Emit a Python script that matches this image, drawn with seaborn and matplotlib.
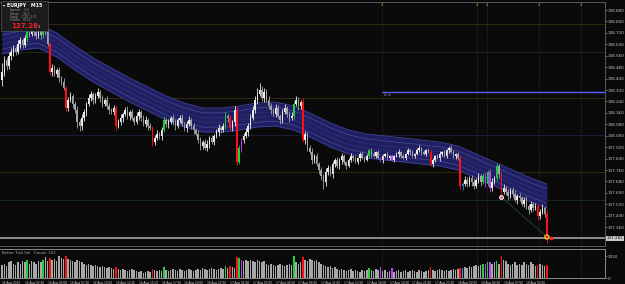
import numpy as np
import pandas as pd
import matplotlib
matplotlib.use("Agg")
import matplotlib.pyplot as plt
import seaborn as sns
from matplotlib import font_manager

# ---------------- data ----------------
symbol = "EURJPY"
timeframe = "M15"
start_time = "2023-08-16 00:00"
first_open = 138.390

close = [
    138.446, 138.530, 138.488, 138.558, 138.586,
    138.614, 138.586, 138.642, 138.670, 138.635, 138.684,
    138.740,
    138.712, 138.754, 138.726, 138.698, 138.740, 138.705,
    138.768,
    138.726, 138.642,
    138.446,
    138.474, 138.432, 138.460, 138.404, 138.376, 138.334,
    138.194,
    138.250, 138.278, 138.222, 138.180,
    138.096, 138.068, 138.124, 138.166,
    138.222, 138.264, 138.292, 138.250, 138.278, 138.306, 138.264, 138.222, 138.250, 138.208, 138.180,
    138.166, 138.194,
    138.068,
    138.096, 138.124, 138.152, 138.180, 138.138,
    138.166, 138.124, 138.096, 138.138, 138.166, 138.124, 138.082, 138.110, 138.068, 138.054,
    137.956,
    137.984, 138.012, 137.998, 138.040,
    138.110,
    138.082, 138.096, 138.124, 138.096, 138.068, 138.110, 138.124, 138.082, 138.054, 138.082, 138.110, 138.068, 138.040, 138.012,
    137.970, 137.928, 137.956, 137.914, 137.942, 137.984, 137.956, 137.998,
    138.026, 138.054, 138.040, 138.068,
    138.138,
    138.124,
    138.054,
    138.096, 138.180,
    137.816,
    137.914,
    137.970,
    137.998, 138.026,
    138.068, 138.124, 138.180, 138.250, 138.292, 138.320, 138.264, 138.306, 138.250, 138.208,
    138.180, 138.152, 138.194, 138.138, 138.110, 138.166, 138.194, 138.152, 138.124, 138.138,
    138.222,
    138.250, 138.208, 138.236,
    137.970,
    138.012, 137.914, 137.886, 137.830, 137.858, 137.802, 137.760,
    137.718, 137.676, 137.746, 137.774, 137.732, 137.802, 137.830,
    137.788, 137.830, 137.858, 137.816, 137.788, 137.830, 137.858, 137.844, 137.816, 137.844, 137.872, 137.844, 137.830, 137.858,
    137.900,
    137.872, 137.858, 137.886, 137.844,
    137.830,
    137.858, 137.872, 137.844, 137.858,
    137.830,
    137.858, 137.872, 137.886, 137.858, 137.844, 137.872, 137.900, 137.886, 137.858, 137.872, 137.900, 137.914, 137.886, 137.872, 137.900, 137.886,
    137.802,
    137.830, 137.858, 137.844, 137.872, 137.886, 137.858, 137.900, 137.914, 137.886, 137.858, 137.872, 137.844,
    137.648,
    137.662,
    137.690, 137.662, 137.704, 137.676, 137.648, 137.690, 137.718, 137.676,
    137.718, 137.662, 137.746, 137.634,
    137.676, 137.704,
    137.788,
    137.732,
    137.606,
    137.634, 137.606, 137.578, 137.620, 137.592, 137.550, 137.578, 137.564, 137.522, 137.550, 137.508, 137.480, 137.522, 137.494, 137.508,
    137.438,
    137.466, 137.494, 137.452,
    137.281,
]

upper_wick_pts = [
    60, 30, 20, 25, 30, 20, 15, 25, 20, 15,
    20, 15, 25, 20, 15, 20, 25, 15, 20, 15,
    20, 15, 25, 20, 15, 20, 15, 25, 15, 20,
    25, 15, 20, 30, 20, 25, 20, 15, 25, 20,
    15, 20, 25, 15, 20, 15, 25, 20, 15, 20,
    15, 20, 25, 15, 20, 25, 15, 20, 15, 25,
    20, 15, 20, 25, 15, 20, 15, 20, 25, 15,
    20, 25, 15, 20, 15, 25, 20, 15, 20, 25,
    15, 20, 25, 15, 20, 15, 25, 20, 15, 20,
    25, 15, 20, 15, 20, 25, 15, 20, 25, 15,
    20, 15, 25, 30, 20, 15, 20, 25, 20, 25,
    30, 25, 40, 50, 30, 25, 20, 25, 20, 15,
    25, 20, 15, 20, 25, 15, 20, 25, 20, 30,
    20, 15, 25, 20, 15, 20, 25, 15, 20, 15,
    20, 15, 25, 20, 15, 20, 15, 20, 15, 20,
    15, 10, 15, 20, 10, 15, 10, 15, 20, 10,
    15, 10, 15, 20, 10, 15, 10, 15, 10, 15,
    10, 15, 10, 15, 20, 10, 15, 10, 15, 10,
    15, 10, 15, 20, 10, 15, 10, 15, 20, 15,
    10, 15, 20, 10, 15, 10, 15, 20, 15, 10,
    15, 20, 15, 25, 20, 15, 20, 25, 15, 20,
    15, 20, 25, 15, 20, 25, 15, 20, 15, 20,
    25, 15, 20, 15, 20, 25, 15, 20, 15, 20,
    25, 15, 20, 15, 20, 15, 20, 25, 15, 30,
]

lower_wick_pts = [
    40, 25, 30, 20, 25, 30, 20, 15, 25, 20,
    15, 25, 20, 15, 25, 20, 15, 25, 20, 20,
    15, 20, 25, 15, 20, 25, 20, 15, 25, 20,
    15, 25, 20, 40, 35, 25, 20, 25, 15, 20,
    25, 20, 15, 25, 20, 15, 20, 25, 15, 20,
    25, 15, 20, 25, 15, 20, 25, 15, 20, 15,
    25, 20, 15, 20, 25, 15, 30, 20, 15, 20,
    25, 15, 20, 25, 15, 20, 25, 15, 20, 15,
    20, 25, 15, 20, 25, 15, 20, 25, 20, 15,
    20, 25, 15, 20, 15, 25, 20, 15, 20, 25,
    15, 20, 25, 20, 15, 25, 20, 15, 25, 20,
    15, 20, 25, 15, 20, 25, 15, 20, 25, 15,
    20, 15, 25, 20, 15, 20, 25, 15, 20, 15,
    25, 20, 15, 25, 20, 15, 25, 20, 15, 25,
    30, 50, 25, 20, 15, 25, 20, 15, 20, 25,
    15, 20, 10, 15, 20, 10, 15, 20, 10, 15,
    10, 15, 20, 10, 15, 10, 15, 20, 10, 15,
    15, 10, 15, 10, 20, 15, 10, 15, 10, 20,
    10, 15, 10, 15, 20, 10, 15, 10, 15, 20,
    15, 10, 20, 15, 10, 15, 20, 10, 15, 20,
    15, 20, 25, 15, 20, 15, 25, 20, 15, 20,
    25, 15, 20, 15, 25, 20, 15, 20, 25, 20,
    15, 20, 25, 15, 20, 15, 25, 20, 15, 20,
    20, 25, 15, 20, 15, 25, 20, 15, 20, 30,
]

volume = [
    650, 700, 600, 750, 800, 700, 650, 750, 700, 800,
    750, 850, 700, 800, 750, 700, 800, 750, 850, 1000,
    800, 950, 850, 900, 800, 1050, 950, 900, 1050, 900,
    850, 800, 750, 850, 800, 750, 700, 650, 700, 650,
    600, 650, 600, 550, 600, 550, 500, 550, 500, 450,
    550, 450, 400, 450, 400, 350, 400, 450, 400, 350,
    300, 350, 250, 300, 350, 300, 450, 400, 350, 400,
    350, 550, 400, 350, 400, 450, 400, 350, 450, 400,
    350, 400, 450, 400, 350, 400, 450, 400, 500, 450,
    400, 450, 500, 450, 400, 450, 500, 450, 600, 500,
    600, 550, 500, 1000, 950, 850, 800, 850, 800, 850,
    800, 750, 850, 800, 750, 800, 700, 650, 700, 650,
    600, 650, 700, 650, 600, 650, 700, 650, 1050, 750,
    700, 750, 1000, 850, 800, 900, 850, 800, 850, 750,
    700, 650, 600, 550, 600, 500, 550, 450, 400, 450,
    400, 350, 400, 450, 350, 400, 350, 300, 400, 350,
    400, 500, 400, 350, 450, 400, 550, 350, 400, 300,
    350, 500, 300, 350, 400, 300, 350, 400, 300, 350,
    400, 350, 300, 400, 350, 300, 350, 400, 550, 400,
    350, 400, 450, 400, 350, 400, 350, 400, 450, 400,
    450, 500, 500, 550, 500, 600, 550, 600, 650, 600,
    650, 700, 700, 750, 750, 700, 750, 800, 700, 1050,
    850, 800, 700, 650, 700, 750, 650, 700, 650, 750,
    700, 650, 750, 700, 600, 650, 700, 650, 600, 650,
]

red_bars = [21, 28, 50, 66, 100, 103, 132, 188, 201, 219, 235, 239]
green_bars = [11, 18, 71, 98, 104, 128, 161, 211, 213, 217]
purple_bars = [105, 166, 171, 212, 214]
blue_bars = [202]

band_bars = [0, 8, 16, 24, 32, 40, 48, 56, 64, 72, 80, 88, 96, 104, 112, 120,
             128, 136, 144, 152, 160, 168, 176, 184, 192, 200, 208, 216, 224, 232, 239]
band_mid = [138.656, 138.684, 138.698, 138.635, 138.544, 138.460, 138.390, 138.320,
            138.257, 138.194, 138.145, 138.110, 138.110, 138.124, 138.145, 138.152,
            138.124, 138.068, 138.005, 137.956, 137.928, 137.914, 137.900, 137.886,
            137.872, 137.844, 137.788, 137.732, 137.676, 137.620, 137.578]
band_half = 0.084

level_orange = [138.782, 138.264, 137.746]
level_green = [138.586, 137.550]
level_navy = [138.005]
hline_price = 138.306
hline_start_bar = 166.7
hline_label = "Euro"

vline_bars = [166.7, 208.3, 212.7, 235.5, 254.0]
vline_labels = ["4", "4", "4", "4", "4"]

signal_bars = [219, 239]
signal_prices = [137.571, 137.291]

price_ticks = [137.360, 137.440, 137.520, 137.600, 137.680, 137.760, 137.840, 137.920,
               138.000, 138.080, 138.160, 138.240, 138.320, 138.400, 138.480, 138.560,
               138.640, 138.720, 138.800, 138.880]
time_label_step = 10

info_lines = ["Spread :   2.0", "Range :   36.1", "Swap :  -7.25 / 2.11", "Candle :  05:12"]
sub_title = "Better Tick Vol   Count: 102"

# ---------------- style ----------------
sns.set_theme(style="dark")
plt.rcParams["font.family"] = ["DejaVu Sans"]
installed = {f.name for f in font_manager.fontManager.ttflist}
NARROW = "Liberation Sans Narrow" if "Liberation Sans Narrow" in installed else "Liberation Sans"
BG = "#0a0a0a"
FG = "#c4c4c4"
SP = "#5a5a5a"

W, H = 625, 284
fig = plt.figure(figsize=(W / 100, H / 100), dpi=100, facecolor=BG)

def rect(x0, y0, x1, y1):
    return [x0 / W, 1 - y1 / H, (x1 - x0) / W, (y1 - y0) / H]

ax = fig.add_axes(rect(0, 2, 605, 246), facecolor=BG)
axv = fig.add_axes(rect(0, 249, 605, 278), facecolor=BG)

N = len(close)
x = np.arange(N)
c = np.array(close)
o = np.r_[first_open, c[:-1]]
hi = np.maximum(o, c) + np.array(upper_wick_pts) * 0.001
lo = np.minimum(o, c) - np.array(lower_wick_pts) * 0.001

cat = np.where(c >= o, "up", "down").astype(object)
for b in red_bars:
    cat[b] = "red"
for b in green_bars:
    cat[b] = "green"
for b in purple_bars:
    cat[b] = "purple"
for b in blue_bars:
    cat[b] = "blue"
cmap = {"up": "#ececec", "down": "#a4a4a4", "red": "#ff1010", "green": "#1ed040",
        "purple": "#c23cff", "blue": "#2a8cff", "grey": "#a8a8a8"}
cols = [cmap[k] for k in cat]

xlim = (-0.88, 264.5)

# levels
for p in level_orange:
    ax.axhline(p, color="#3a2e12", lw=0.6, zorder=0.5)
for p in level_green:
    ax.axhline(p, color="#183218", lw=0.6, zorder=0.5)
for p in level_navy:
    ax.axhline(p, color="#1a2440", lw=0.6, zorder=0.5)
for vb, vl in zip(vline_bars, vline_labels):
    ax.axvline(vb, color="#363636", lw=0.6, ls=(0, (1, 1.5)), zorder=0.6)
    axv.axvline(vb, color="#363636", lw=0.6, ls=(0, (1, 1.5)), zorder=0.6)
    ax.text(vb, 138.930, vl, color="#a6a024", fontsize=2.8, ha="center", va="top", zorder=5)

# band
bm = np.array(band_mid)
ax.fill_between(band_bars, bm - band_half, bm + band_half, color="#1f1f62", lw=0, zorder=1)
for off, colr, lw in [(-band_half, "#44449c", 0.6), (band_half, "#44449c", 0.6),
                      (-0.05, "#50509f", 0.45), (0.05, "#50509f", 0.45),
                      (-0.016, "#34347f", 0.45), (0.016, "#34347f", 0.45)]:
    sns.lineplot(x=band_bars, y=bm + off, ax=ax, color=colr, lw=lw, zorder=1.5)

# candles
ax.vlines(x, lo, hi, colors=cols, lw=0.6, zorder=3)
body_bottom = np.minimum(o, c)
body_h = np.maximum(np.abs(c - o), 0.003)
ax.bar(x, body_h, bottom=body_bottom, width=0.66, color=cols, lw=0, zorder=3.2)

# horizontal object line
ax.hlines(hline_price, hline_start_bar, xlim[1], color="#5c5cff", lw=1.0, zorder=4)
ax.text(hline_start_bar + 0.5, hline_price - 0.008, hline_label, color="#8080c0",
        fontsize=2.6, ha="left", va="top", zorder=5)

# bid line
ax.axhline(c[-1], color="#8c8c8c", lw=1.4, zorder=2.5)

# signals
ax.plot(signal_bars, signal_prices, color="#2a8a8a", lw=0.6, ls=(0, (1, 1.2)), zorder=4)
ax.scatter([signal_bars[0]], [signal_prices[0]], s=7, facecolor="#e04040",
           edgecolor="white", lw=0.8, zorder=6)
ax.scatter([signal_bars[1]], [signal_prices[1]], s=9, facecolor="none",
           edgecolor="#f0d020", lw=0.9, zorder=6)
ax.scatter([signal_bars[1] + 2], [signal_prices[1] - 0.004], s=3, marker="s",
           color="#ff2020", zorder=6)

ylim = (137.228, 138.936)
ax.set_xlim(*xlim)
ax.set_ylim(*ylim)
ax.set_xticks([])
ax.yaxis.tick_right()
ax.set_yticks(price_ticks)
ax.set_yticklabels([f"{v:.3f}" for v in price_ticks])
ax.tick_params(axis="y", colors=FG, labelsize=3.0, length=1.2, width=0.4, pad=1.0)
ax.spines["left"].set_visible(False)
for s in ["top", "right", "bottom"]:
    ax.spines[s].set_color(SP)
    ax.spines[s].set_linewidth(0.7)
ax.grid(False)
ax.set_xlabel("")
ax.set_ylabel("")

# bid price box
ax.text(1.003, (c[-1] - ylim[0]) / (ylim[1] - ylim[0]), f"{c[-1]:.3f}",
        transform=ax.transAxes, fontsize=3.0, color="#101010", ha="left", va="center",
        bbox=dict(boxstyle="square,pad=0.12", fc="#c8c8c8", ec="none"), clip_on=False, zorder=7)

# volume subwindow
df = pd.DataFrame({"bar": x, "vol": volume,
                   "cat": ["grey" if k in ("up", "down") else k for k in cat]})
sns.barplot(data=df, x="bar", y="vol", hue="cat", palette=cmap, native_scale=True,
            dodge=False, width=0.65, saturation=1, legend=False, ax=axv,
            linewidth=0, errorbar=None)
axv.set_xlim(*xlim)
axv.set_ylim(0, 1400)
axv.yaxis.tick_right()
axv.set_yticks([0, max(volume)])
axv.set_yticklabels(["0", f"{max(volume)}"])
axv.tick_params(axis="y", colors=FG, labelsize=3.0, length=1.2, width=0.4, pad=1.0)
times = pd.date_range(start_time, periods=N, freq="15min")
tb = list(range(0, N, time_label_step))
tl = [times[b].strftime("%d %b %Y") if b == 0 else times[b].strftime("%d %b %H:%M") for b in tb]
axv.set_xticks(tb)
axv.set_xticklabels(tl)
axv.tick_params(axis="x", colors=FG, labelsize=2.3, length=1.8, width=0.4, pad=0.6)
for lab in axv.get_xticklabels():
    lab.set_ha("left")
    lab.set_family([NARROW, "DejaVu Sans"])
axv.spines["left"].set_visible(False)
for s in ["top", "right", "bottom"]:
    axv.spines[s].set_color("#8a8a8a")
    axv.spines[s].set_linewidth(0.7)
axv.grid(False)
axv.set_xlabel("")
axv.set_ylabel("")
axv.text(0.004, 0.93, sub_title, transform=axv.transAxes, color="#b0b0b0",
         fontsize=2.8, ha="left", va="top")

# info box
axi = fig.add_axes(rect(1, 1, 48, 31), facecolor="#1c1c1c", zorder=10)
axi.set_xticks([]); axi.set_yticks([])
for s in axi.spines.values():
    s.set_color("#505050"); s.set_linewidth(0.5)
axi.set_xlim(0, 47); axi.set_ylim(30, 0)
axi.text(1.5, 4, "▾", color="white", fontsize=3, va="center")
axi.text(6, 4.2, f"{symbol}   {timeframe}", color="white", fontsize=3.4,
         fontweight="bold", va="center")
for k, line in enumerate(info_lines):
    axi.text(9, 9.3 + 3.2 * k, line, color="#9a9a9a", fontsize=2.0, va="center")
big = f"{c[-1]:.3f}"
axi.text(10, 24.5, big[:-1], color="#ff1a1a", fontsize=5.0, fontweight="bold", va="center")
axi.text(37, 25.5, big[-1], color="#d0d0d0", fontsize=2.8, va="center")

fig.savefig("out.png", dpi=100, facecolor=BG)
